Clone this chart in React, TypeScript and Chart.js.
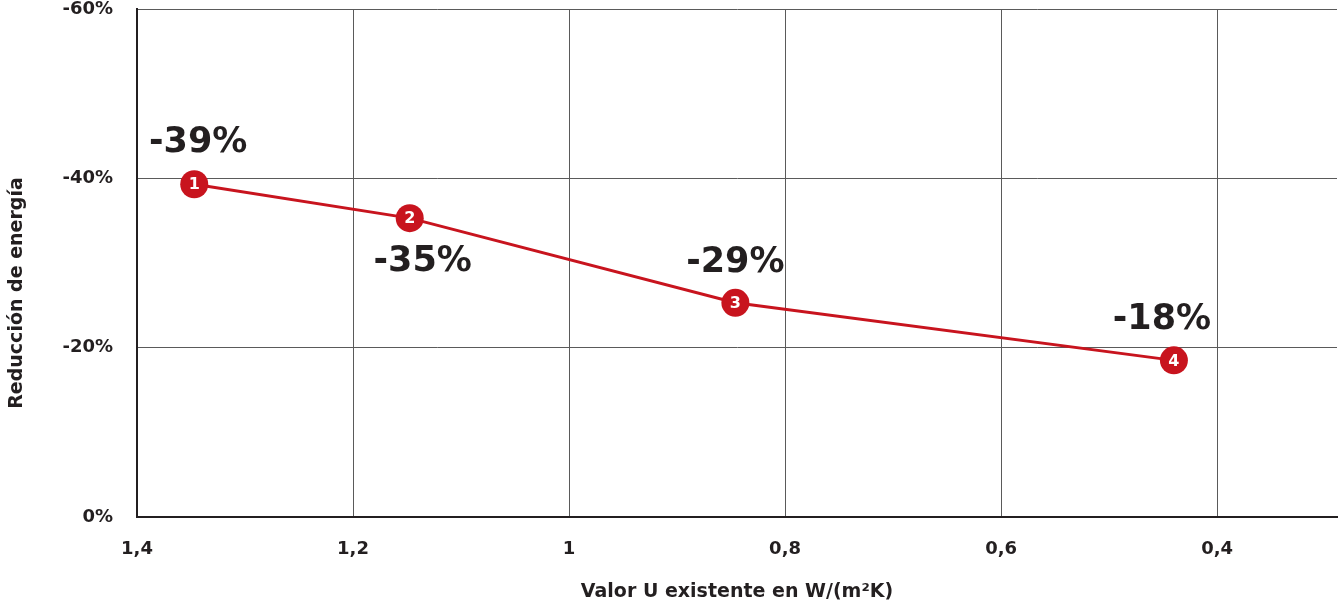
import React, { useEffect, useRef } from "react";
import { Chart, registerables } from "chart.js";

Chart.register(...registerables);

const uValues = [1.347, 1.1475, 0.846, 0.44];
const reduction = [-39.3, -35.3, -25.3, -18.5];
const pointNumbers = ["1", "2", "3", "4"];
const valueLabels = ["-39%", "-35%", "-29%", "-18%"];
const xTicks = [1.4, 1.2, 1, 0.8, 0.6, 0.4];
const yTicks = [-60, -40, -20, 0];
const xTitle = "Valor U existente en W/(m²K)";
const yTitle = "Reducción de energía";

const RED = "#c8141e";
const DARK = "#231f20";
const FONT = "'DejaVu Sans', sans-serif";

// label offsets relative to each point (px)
const labelOffsets = [
  { dx: 4, dy: -41 },
  { dx: 13, dy: 44 },
  { dx: 0, dy: -40 },
  { dx: -12, dy: -40 },
];

const labelsPlugin = {
  id: "pointLabels",
  afterDatasetsDraw(chart: any) {
    const ctx = chart.ctx;
    const meta = chart.getDatasetMeta(0);
    ctx.save();
    ctx.textAlign = "center";
    ctx.textBaseline = "middle";
    meta.data.forEach((el: any, i: number) => {
      ctx.fillStyle = "#ffffff";
      ctx.font = `bold 16px ${FONT}`;
      ctx.fillText(pointNumbers[i], el.x, el.y + 1);
      ctx.fillStyle = DARK;
      ctx.font = `bold 35px ${FONT}`;
      const o = labelOffsets[i];
      ctx.fillText(valueLabels[i], el.x + o.dx, el.y + o.dy);
    });
    // y-axis title
    ctx.translate(17, 293);
    ctx.rotate(-Math.PI / 2);
    ctx.fillStyle = DARK;
    ctx.font = `bold 19px ${FONT}`;
    ctx.fillText(yTitle, 0, 0);
    ctx.restore();
  },
};

export default function App() {
  const ref = useRef<HTMLCanvasElement>(null);
  useEffect(() => {
    document.body.style.margin = "0";
    const chart = new Chart(ref.current!, {
      type: "line",
      data: {
        datasets: [
          {
            data: uValues.map((x, i) => ({ x, y: reduction[i] })),
            borderColor: RED,
            borderWidth: 3,
            pointRadius: 14,
            pointBackgroundColor: RED,
            pointBorderWidth: 0,
            tension: 0,
          },
        ],
      },
      options: {
        animation: false,
        responsive: false,
        layout: { autoPadding: false, padding: { top: 9, right: 4, bottom: 0, left: 0 } },
        plugins: { legend: { display: false }, tooltip: { enabled: false } },
        scales: {
          x: {
            type: "linear",
            reverse: true,
            min: 0.289,
            max: 1.4,
            afterBuildTicks: (s: any) => {
              s.ticks = xTicks.map((v) => ({ value: v }));
            },
            afterFit: (s: any) => {
              s.height = 89;
              s.paddingLeft = 0;
              s.paddingRight = 0;
              s.paddingTop = 0;
              s.paddingBottom = 0;
            },
            grid: { color: "#5a5a5a", lineWidth: 1, drawTicks: false },
            border: { color: DARK, width: 2 },
            ticks: {
              padding: 22,
              color: DARK,
              font: { family: FONT, size: 18, weight: "bold" },
              callback: (v: any) => String(v).replace(".", ","),
              maxRotation: 0,
            },
            title: {
              display: true,
              text: xTitle,
              color: DARK,
              font: { family: FONT, size: 19, weight: "bold" },
              padding: { top: 0, bottom: 3 },
            },
          },
          y: {
            type: "linear",
            reverse: true,
            min: -60,
            max: 0,
            afterBuildTicks: (s: any) => {
              s.ticks = yTicks.map((v) => ({ value: v }));
            },
            afterFit: (s: any) => {
              s.width = 137;
              s.paddingLeft = 0;
              s.paddingRight = 0;
              s.paddingTop = 0;
              s.paddingBottom = 0;
            },
            grid: { color: "#5a5a5a", lineWidth: 1, drawTicks: false },
            border: { color: DARK, width: 2 },
            ticks: {
              padding: 24,
              color: DARK,
              font: { family: FONT, size: 18, weight: "bold" },
              callback: (v: any) => `${v}%`,
            },
          },
        },
      },
      plugins: [labelsPlugin],
    });
    return () => chart.destroy();
  }, []);
  return (
    <div style={{ position: "absolute", left: 0, top: 0, width: 1341, height: 606 }}>
      <canvas ref={ref} width={1341} height={606} style={{ display: "block" }} />
    </div>
  );
}
